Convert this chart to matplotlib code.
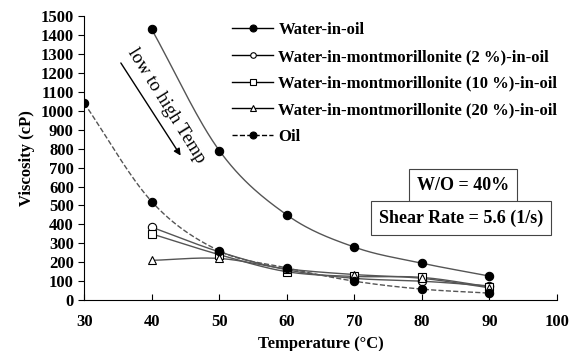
import numpy as np
import matplotlib.pyplot as plt

# Viscosity vs temperature, W/O = 40 %
temp = [40, 50, 60, 70, 80, 90]
oil_temp = [30, 40, 50, 60, 70, 80, 90]
water_in_oil = [1430, 790, 450, 280, 195, 127]
mont_2 = [385, 255, 160, 115, 100, 75]
mont_10 = [350, 240, 150, 125, 120, 70]
mont_20 = [210, 220, 165, 135, 115, 65]
oil = [1040, 520, 260, 170, 100, 58, 37]

labels = ['Water-in-oil',
          'Water-in-montmorillonite (2 %)-in-oil',
          'Water-in-montmorillonite (10 %)-in-oil',
          'Water-in-montmorillonite (20 %)-in-oil',
          'Oil']

plt.rcParams['font.family'] = 'Liberation Serif'
plt.rcParams['font.weight'] = 'bold'


def smooth(x, y, n=30):
    # catmull-rom curve through the points, like excel's smoothed lines
    x = np.asarray(x, float)
    y = np.asarray(y, float)
    px = np.concatenate([[2 * x[0] - x[1]], x, [2 * x[-1] - x[-2]]])
    py = np.concatenate([[2 * y[0] - y[1]], y, [2 * y[-1] - y[-2]]])
    xs, ys = [], []
    t = np.linspace(0, 1, n)
    for i in range(1, len(px) - 2):
        for p, out in ((px, xs), (py, ys)):
            p0, p1, p2, p3 = p[i - 1], p[i], p[i + 1], p[i + 2]
            out.extend(0.5 * (2 * p1 + (-p0 + p2) * t
                              + (2 * p0 - 5 * p1 + 4 * p2 - p3) * t ** 2
                              + (-p0 + 3 * p1 - 3 * p2 + p3) * t ** 3))
    return xs, ys


fig = plt.figure(figsize=(5.73, 3.51), dpi=100)
ax = fig.add_axes([0.147, 0.145, 0.825, 0.809])

lc = '#555555'
series = [
    (temp, water_in_oil, 'o', 'black', '-'),
    (temp, mont_2, 'o', 'white', '-'),
    (temp, mont_10, 's', 'white', '-'),
    (temp, mont_20, '^', 'white', '-'),
    (oil_temp, oil, 'o', 'black', '--'),
]
for (x, y, m, fc, ls), lab in zip(series, labels):
    sx, sy = smooth(x, y)
    ax.plot(sx, sy, color=lc, lw=1.0, ls=ls, zorder=2)
    ax.plot(x, y, ls='none', marker=m, ms=6, mfc=fc, mec='black', mew=0.8, zorder=3)
    ax.plot([], [], color='black', lw=1.0, ls=ls, marker=m,
            ms=5 if fc == 'black' else 4, mfc=fc, mec='black', mew=0.8, label=lab)

ax.set_xlim(30, 100)
ax.set_ylim(0, 1500)
ax.set_xticks(range(30, 101, 10))
ax.set_yticks(range(0, 1501, 100))
ax.tick_params(axis='x', direction='in', length=4, labelsize=12, pad=10)
ax.tick_params(axis='y', direction='out', length=4, labelsize=12)
for s in ['top', 'right']:
    ax.spines[s].set_visible(False)

ax.set_xlabel('Temperature (°C)', fontsize=12, fontweight='bold', labelpad=4)
ax.set_ylabel('Viscosity (cP)', fontsize=12, fontweight='bold', labelpad=4)

ax.legend(loc='upper left', bbox_to_anchor=(0.305, 0.99), frameon=False,
          fontsize=12, handlelength=2.5, handletextpad=0.3,
          labelspacing=0.64, borderpad=0.2, borderaxespad=0.0)

ax.annotate('', xy=(44.5, 751), xytext=(35.2, 1265),
            arrowprops=dict(arrowstyle='-|>', color='black', lw=1.0))
ax.text(42.1, 1025, 'low to high Temp', rotation=-58, fontsize=13.5,
        fontweight='normal', ha='center', va='center', rotation_mode='anchor')

ax.text(86.1, 603, 'W/O = 40%', fontsize=13, ha='center', va='center',
        bbox=dict(boxstyle='square,pad=0.45', fc='white', ec='#444444', lw=0.8))
ax.text(85.8, 434, 'Shear Rate = 5.6 (1/s)', fontsize=13, ha='center', va='center',
        bbox=dict(boxstyle='square,pad=0.45', fc='white', ec='#444444', lw=0.8))

fig.savefig('out.png', dpi=100)
